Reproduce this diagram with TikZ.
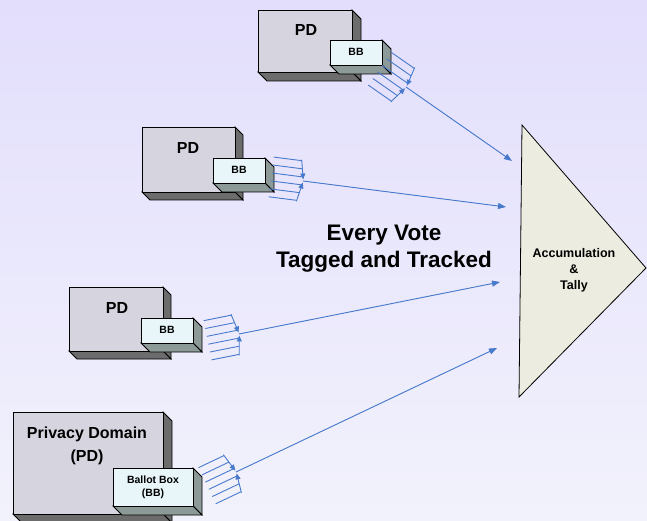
\documentclass[tikz,border=0pt]{standalone}
\usepackage{fontspec}
\setmainfont{Liberation Sans}
\usetikzlibrary{arrows.meta}
\definecolor{bgtop}{RGB}{226,222,252}
\definecolor{bgbot}{RGB}{242,242,252}
\definecolor{pdfront}{RGB}{214,212,222}
\definecolor{pdside}{RGB}{108,108,108}
\definecolor{bbfront}{RGB}{232,246,250}
\definecolor{bbside}{RGB}{140,154,152}
\definecolor{flow}{RGB}{72,122,204}
\definecolor{tally}{RGB}{236,236,224}
\newcommand{\boxthreed}[7]{%
  \filldraw[fill=#7, draw=black, line width=0.8pt] (#3,#2) -- (#3+#5,#2+#5) -- (#3+#5,#4+#5) -- (#3,#4) -- cycle;
  \filldraw[fill=#7, draw=black, line width=0.8pt] (#1,#4) -- (#3,#4) -- (#3+#5,#4+#5) -- (#1+#5,#4+#5) -- cycle;
  \filldraw[fill=#6, draw=black, line width=0.8pt] (#1,#2) rectangle (#3,#4);
}
\newcommand{\bundlemark}{%
  \foreach \yy in {4,12,20}{
    \draw[flowline] (-32,\yy) -- ({-4+4*(21-\yy)/21},\yy);
    \draw[flowline] (-32,-\yy) -- ({-4+4*(21-\yy)/21},-\yy);
  }
  \draw[flowline,-{Triangle[length=6pt,width=5pt]}] (-4,21) -- (0,1.5);
  \draw[flowline,-{Triangle[length=6pt,width=5pt]}] (-4,-21) -- (0,-1.5);
}
\tikzset{
  flowline/.style={draw=flow, line width=0.9pt},
  flowarrow/.style={draw=flow, line width=0.9pt, -{Triangle[length=8pt,width=6pt]}, fill=flow},
  pdtext/.style={font=\bfseries\fontsize{16}{23}\selectfont, align=center, inner sep=0pt},
  bbtext/.style={font=\bfseries\fontsize{10.5}{13}\selectfont, align=center, inner sep=0pt},
  bigtext/.style={font=\bfseries\fontsize{22.5}{27}\selectfont, align=center, inner sep=0pt},
  tallytext/.style={font=\bfseries\fontsize{12.5}{16}\selectfont, align=center, inner sep=0pt}
}
\begin{document}
\begin{tikzpicture}[x=1pt,y=-1pt]
\shade[top color=bgtop,bottom color=bgbot] (0,0) rectangle (647,521);
\useasboundingbox (0,0) rectangle (647,521);
\clip (0,0) rectangle (647,521);

% triangle
\filldraw[fill=tally, draw=black, line width=0.8pt] (522,125) -- (646,268) -- (519,397) -- cycle;
\node[tallytext] (tally) at (574,270) {Accumulation\\\&\\Tally};

% boxes
\boxthreed{258}{10}{352}{72}{9}{pdfront}{pdside}
\boxthreed{330}{40}{382}{65}{9}{bbfront}{bbside}
\node[pdtext] (pd1) at (306,30) {PD};
\node[bbtext] (bb1) at (356,52) {BB};

\boxthreed{142}{127}{235}{192}{8}{pdfront}{pdside}
\boxthreed{213}{158}{265}{183}{9}{bbfront}{bbside}
\node[pdtext] (pd2) at (188,148) {PD};
\node[bbtext] (bb2) at (239,170) {BB};

\boxthreed{69}{287}{163}{351}{8}{pdfront}{pdside}
\boxthreed{141}{318}{193}{343}{9}{bbfront}{bbside}
\node[pdtext] (pd3) at (117,308) {PD};
\node[bbtext] (bb3) at (167,330) {BB};

\boxthreed{13}{412}{163}{514}{9}{pdfront}{pdside}
\boxthreed{113}{468}{193}{506}{9}{bbfront}{bbside}
\node[pdtext] (pd4) at (87,446) {Privacy Domain\\(PD)};
\node[bbtext] (bb4) at (153,487) {Ballot Box\\(BB)};

\node[bigtext] (title) at (384,249) {Every Vote\\Tagged and Tracked};

% merge points and targets
\coordinate (m1) at (406,87);
\coordinate (m2) at (303,181);
\coordinate (m3) at (239,334);
\coordinate (m4) at (236,472);
\coordinate (t1) at (512,161);
\coordinate (t2) at (506,207);
\coordinate (t3) at (500,282);
\coordinate (t4) at (497,348);

\begin{scope}[shift={(m1)}, rotate=-34.9]\bundlemark\end{scope}
\begin{scope}[shift={(m2)}, rotate=-7.3]\bundlemark\end{scope}
\begin{scope}[shift={(m3)}, rotate=11.3]\bundlemark\end{scope}
\begin{scope}[shift={(m4)}, rotate=25.4]\bundlemark\end{scope}

\draw[flowarrow] (m1) -- (t1);
\draw[flowarrow] (m2) -- (t2);
\draw[flowarrow] (m3) -- (t3);
\draw[flowarrow] (m4) -- (t4);
\end{tikzpicture}
\end{document}
